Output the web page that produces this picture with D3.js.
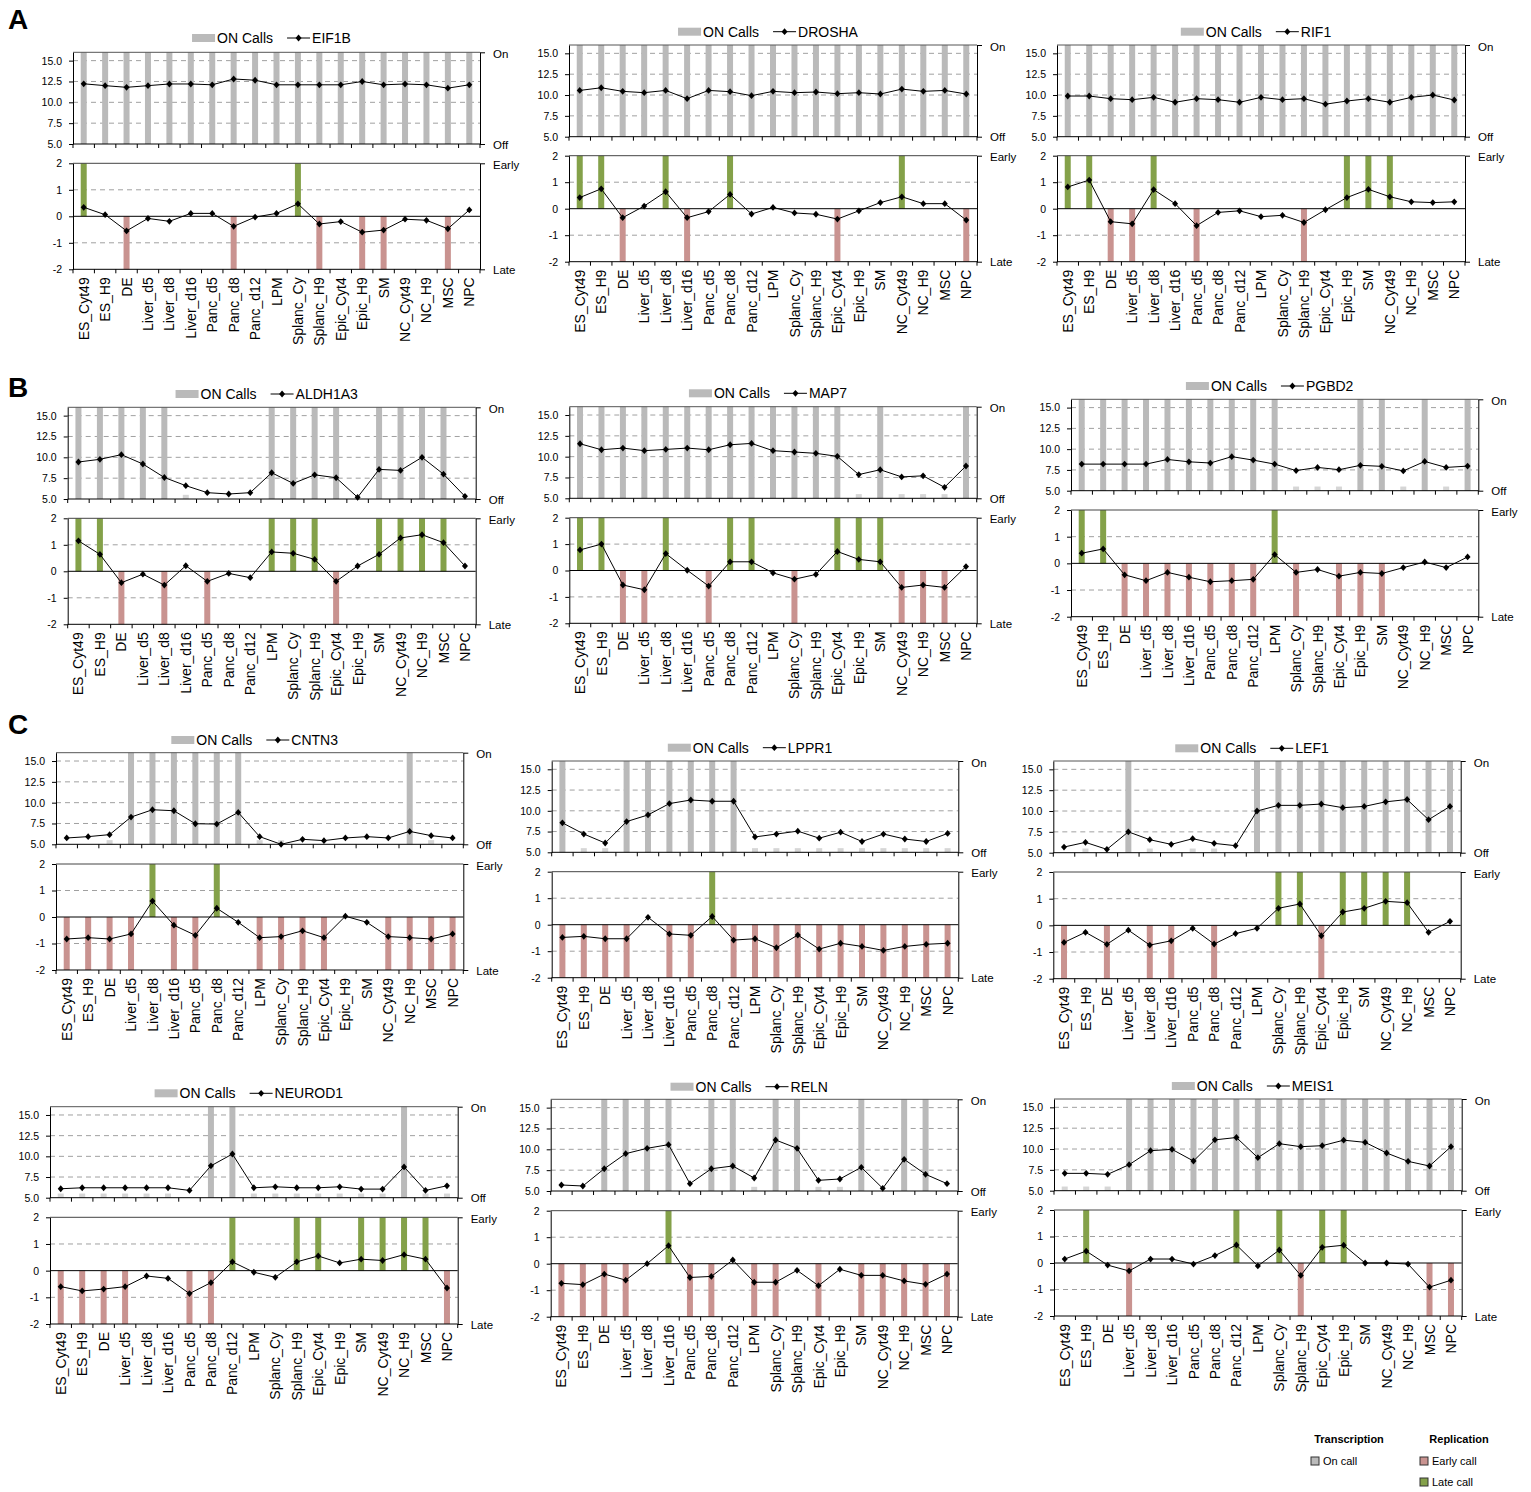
<!DOCTYPE html>
<html><head><meta charset="utf-8">
<script src="https://cdn.jsdelivr.net/npm/d3@7"></script>
<style>
body{margin:0;background:#fff}
text{font-family:"Liberation Sans",Arial,Helvetica,sans-serif;fill:#000}
</style>
</head><body>
<svg id="chart" width="1531" height="1492"></svg>
<script>
// ---------------- DATA ----------------
const categories = ["ES_Cyt49","ES_H9","DE","Liver_d5","Liver_d8","Liver_d16","Panc_d5","Panc_d8","Panc_d12","LPM","Splanc_Cy","Splanc_H9","Epic_Cyt4","Epic_H9","SM","NC_Cyt49","NC_H9","MSC","NPC"];
const exprTicks = [5, 7.5, 10, 12.5, 15];
const repTicks = [-2, -1, 0, 1, 2];
// on-call codes: 1 = ON call, 0.5 = faint off-call stub, 0 = none
// replication calls: 1 = early (up bar), -1 = late (down bar), 0 = none

const EIF1B_expr = [12.22,12.0,11.8,12.0,12.2,12.2,12.1,12.8,12.65,12.1,12.1,12.1,12.1,12.5,12.1,12.2,12.1,11.7,12.1];
const EIF1B_on   = [1,1,1,1,1,1,1,1,1,1,1,1,1,1,1,1,1,1,1];
const EIF1B_rep  = [0.34,0.06,-0.55,-0.08,-0.19,0.11,0.11,-0.38,-0.03,0.11,0.47,-0.29,-0.2,-0.6,-0.52,-0.11,-0.15,-0.47,0.24];
const EIF1B_call = [1,0,-1,0,0,0,0,-1,0,0,1,-1,0,-1,-1,0,0,-1,0];

const DROSHA_expr = [10.55,10.87,10.44,10.28,10.55,9.56,10.55,10.4,9.92,10.44,10.28,10.36,10.16,10.28,10.12,10.71,10.44,10.55,10.12];
const DROSHA_on   = [1,1,1,1,1,1,1,1,1,1,1,1,1,1,1,1,1,1,1];
const DROSHA_rep  = [0.42,0.75,-0.34,0.1,0.64,-0.34,-0.11,0.54,-0.2,0.05,-0.16,-0.21,-0.39,-0.08,0.23,0.45,0.19,0.19,-0.43];
const DROSHA_call = [1,1,-1,0,1,-1,0,1,0,0,0,0,-1,0,0,1,0,0,-1];

const RIF1_expr = [9.88,9.88,9.56,9.44,9.72,9.13,9.56,9.44,9.13,9.72,9.44,9.56,8.9,9.28,9.56,9.13,9.72,10.0,9.4];
const RIF1_on   = [1,1,1,1,1,1,1,1,1,1,1,1,1,1,1,1,1,1,1];
const RIF1_rep  = [0.82,1.08,-0.49,-0.57,0.72,0.19,-0.64,-0.14,-0.08,-0.3,-0.25,-0.52,-0.04,0.42,0.73,0.45,0.26,0.23,0.26];
const RIF1_call = [1,1,-1,-1,1,0,-1,0,0,0,0,-1,0,1,1,1,0,0,0];

const ALDH1A3_expr = [9.44,9.76,10.32,9.2,7.58,6.6,5.76,5.6,5.76,8.15,6.87,7.9,7.55,5.2,8.55,8.43,10.0,7.98,5.32];
const ALDH1A3_on   = [1,1,1,1,1,0.5,0,0,0,1,1,1,1,0,1,1,1,1,0];
const ALDH1A3_rep  = [1.15,0.64,-0.43,-0.11,-0.52,0.21,-0.38,-0.08,-0.24,0.73,0.68,0.45,-0.38,0.2,0.64,1.26,1.38,1.08,0.2];
const ALDH1A3_call = [1,1,-1,0,-1,0,-1,0,0,1,1,1,-1,0,1,1,1,1,0];

const MAP7_expr = [11.55,10.83,11.03,10.72,10.87,11.03,10.83,11.43,11.59,10.72,10.56,10.4,10.04,7.85,8.43,7.57,7.7,6.32,8.88];
const MAP7_on   = [1,1,1,1,1,1,1,1,1,1,1,1,1,0.5,1,0.5,0.5,0.5,1];
const MAP7_rep  = [0.78,1.0,-0.55,-0.73,0.64,0.01,-0.59,0.33,0.33,-0.09,-0.33,-0.15,0.72,0.42,0.33,-0.64,-0.55,-0.64,0.15];
const MAP7_call = [1,1,-1,-1,1,0,-1,1,1,0,-1,0,1,1,1,-1,-1,-1,0];

const PGBD2_expr = [8.2,8.2,8.2,8.2,8.76,8.48,8.33,9.1,8.68,8.2,7.42,7.8,7.53,8.05,7.93,7.38,8.52,7.8,7.96];
const PGBD2_on   = [1,1,1,1,1,1,1,1,1,1,0.5,0.5,0.5,1,1,0.5,1,0.5,1];
const PGBD2_rep  = [0.38,0.54,-0.43,-0.65,-0.34,-0.52,-0.69,-0.65,-0.6,0.33,-0.34,-0.23,-0.48,-0.34,-0.38,-0.16,0.05,-0.16,0.24];
const PGBD2_call = [1,1,-1,-1,-1,-1,-1,-1,-1,1,-1,0,-1,-1,-1,0,0,0,0];

const CNTN3_expr = [5.76,5.92,6.16,8.27,9.15,9.03,7.47,7.43,8.83,5.92,5.0,5.6,5.44,5.76,5.92,5.76,6.55,6.04,5.76];
const CNTN3_on   = [0,0,0.5,1,1,1,1,1,1,0.5,0.5,0,0,0,0,0,1,0.5,0];
const CNTN3_rep  = [-0.83,-0.78,-0.83,-0.64,0.6,-0.31,-0.69,0.33,-0.2,-0.78,-0.74,-0.52,-0.78,0.03,-0.2,-0.74,-0.78,-0.83,-0.64];
const CNTN3_call = [-1,-1,-1,-1,1,-1,-1,1,0,-1,-1,-1,-1,0,0,-1,-1,-1,-1];

const LPPR1_expr = [8.55,7.2,6.12,8.7,9.5,10.87,11.3,11.15,11.15,6.85,7.2,7.55,6.7,7.42,6.3,7.2,6.6,6.3,7.27];
const LPPR1_on   = [1,0.5,0.5,1,1,1,1,1,1,0.5,0.5,0.5,0.5,0.5,0.5,0.5,0.5,0.5,0.5];
const LPPR1_rep  = [-0.48,-0.44,-0.53,-0.53,0.28,-0.35,-0.4,0.31,-0.58,-0.53,-0.87,-0.39,-0.92,-0.7,-0.82,-0.97,-0.82,-0.74,-0.7];
const LPPR1_call = [-1,-1,-1,-1,0,-1,-1,1,-1,-1,-1,-1,-1,-1,-1,-1,-1,-1,-1];

const LEF1_expr = [5.68,6.24,5.4,7.5,6.56,6.0,6.68,6.12,5.84,10.0,10.68,10.68,10.84,10.4,10.55,11.1,11.38,8.96,10.55];
const LEF1_on   = [0,0.5,0,1,0.5,0,0.5,0.5,0,1,1,1,1,1,1,1,1,1,1];
const LEF1_rep  = [-0.64,-0.26,-0.71,-0.18,-0.74,-0.58,-0.11,-0.7,-0.31,-0.11,0.64,0.8,-0.39,0.5,0.64,0.9,0.85,-0.26,0.15];
const LEF1_call = [-1,0,-1,0,-1,-1,0,-1,0,0,1,1,-1,1,1,1,1,0,0];

const NEUROD1_expr = [6.08,6.2,6.2,6.2,6.2,6.2,5.88,8.85,10.28,6.2,6.32,6.2,6.2,6.32,6.04,6.04,8.72,5.88,6.44];
const NEUROD1_on   = [0.5,0.5,0.5,0.5,0.5,0.5,0,1,1,0.5,0.5,0.5,0.5,0.5,0.5,0.5,1,0.5,0.5];
const NEUROD1_rep  = [-0.6,-0.76,-0.69,-0.6,-0.2,-0.29,-0.86,-0.45,0.33,-0.06,-0.25,0.33,0.55,0.29,0.43,0.38,0.6,0.43,-0.65];
const NEUROD1_call = [-1,-1,-1,-1,0,0,-1,-1,1,0,0,1,1,0,1,1,1,1,-1];

const RELN_expr = [5.72,5.6,7.67,9.48,10.12,10.56,5.88,7.67,8.0,6.56,11.12,10.12,6.28,6.44,7.84,5.32,8.8,7.0,5.88];
const RELN_on   = [0,0,1,1,1,1,0,1,1,0.5,1,1,0.5,0.5,1,0,1,1,0];
const RELN_rep  = [-0.74,-0.79,-0.39,-0.62,0.0,0.68,-0.52,-0.48,0.14,-0.7,-0.7,-0.25,-0.83,-0.21,-0.44,-0.44,-0.65,-0.78,-0.39];
const RELN_call = [-1,-1,-1,-1,0,1,-1,-1,0,-1,-1,0,-1,0,-1,-1,-1,-1,-1];

const MEIS1_expr = [7.08,7.08,6.96,8.12,9.8,9.96,8.56,11.1,11.38,8.96,10.64,10.28,10.4,11.06,10.8,9.52,8.52,7.96,10.28];
const MEIS1_on   = [0.5,0.5,0.5,1,1,1,1,1,1,1,1,1,1,1,1,1,1,1,1];
const MEIS1_rep  = [0.15,0.45,-0.08,-0.3,0.15,0.15,-0.04,0.28,0.68,-0.11,0.49,-0.47,0.59,0.67,0.0,0.0,-0.04,-0.91,-0.65];
const MEIS1_call = [0,1,0,-1,0,0,0,0,1,0,1,-1,1,1,0,0,0,-1,-1];

const panels = [
  {gene:"EIF1B",   expr:EIF1B_expr,   on:EIF1B_on,   rep:EIF1B_rep,   call:EIF1B_call},
  {gene:"DROSHA",  expr:DROSHA_expr,  on:DROSHA_on,  rep:DROSHA_rep,  call:DROSHA_call},
  {gene:"RIF1",    expr:RIF1_expr,    on:RIF1_on,    rep:RIF1_rep,    call:RIF1_call},
  {gene:"ALDH1A3", expr:ALDH1A3_expr, on:ALDH1A3_on, rep:ALDH1A3_rep, call:ALDH1A3_call},
  {gene:"MAP7",    expr:MAP7_expr,    on:MAP7_on,    rep:MAP7_rep,    call:MAP7_call},
  {gene:"PGBD2",   expr:PGBD2_expr,   on:PGBD2_on,   rep:PGBD2_rep,   call:PGBD2_call},
  {gene:"CNTN3",   expr:CNTN3_expr,   on:CNTN3_on,   rep:CNTN3_rep,   call:CNTN3_call},
  {gene:"LPPR1",   expr:LPPR1_expr,   on:LPPR1_on,   rep:LPPR1_rep,   call:LPPR1_call},
  {gene:"LEF1",    expr:LEF1_expr,    on:LEF1_on,    rep:LEF1_rep,    call:LEF1_call},
  {gene:"NEUROD1", expr:NEUROD1_expr, on:NEUROD1_on, rep:NEUROD1_rep, call:NEUROD1_call},
  {gene:"RELN",    expr:RELN_expr,    on:RELN_on,    rep:RELN_rep,    call:RELN_call},
  {gene:"MEIS1",   expr:MEIS1_expr,   on:MEIS1_on,   rep:MEIS1_rep,   call:MEIS1_call}
];

// ---------------- LAYOUT ----------------
const layout = [
  {x0:73,    x1:480,    t0:52.3,   t1:144,    b0:163.3,  b1:269.3,  ly:38},
  {x0:569,   x1:977,    t0:45,     t1:136.7,  b0:155.7,  b1:261.7,  ly:31.7},
  {x0:1057,  x1:1465,   t0:45,     t1:136.7,  b0:155.7,  b1:261.7,  ly:31.7},
  {x0:67.7,  x1:475.7,  t0:407.3,  t1:499,    b0:518.3,  b1:624.3,  ly:394},
  {x0:569.3, x1:976.7,  t0:406.7,  t1:498.3,  b0:517.7,  b1:623.3,  ly:393.3},
  {x0:1071,  x1:1478.3, t0:399.3,  t1:490.7,  b0:510,    b1:616.7,  ly:386},
  {x0:56,    x1:463.3,  t0:752.7,  t1:844.3,  b0:864,    b1:970,    ly:740},
  {x0:551.7, x1:958.3,  t0:761,    t1:852.3,  b0:871.7,  b1:977.7,  ly:747.7},
  {x0:1053.3,x1:1460.7, t0:761,    t1:852.7,  b0:872,    b1:978.7,  ly:748.3},
  {x0:50,    x1:457.7,  t0:1106.7, t1:1197.7, b0:1217.3, b1:1324,   ly:1093.3},
  {x0:550.7, x1:957.7,  t0:1099.3, t1:1191,   b0:1210.7, b1:1316.7, ly:1086.7},
  {x0:1054,  x1:1461.7, t0:1099,   t1:1190.7, b0:1210,   b1:1316,   ly:1086}
];

const COL_ON = "#bababa", COL_STUB = "#d6d6d6", COL_EARLY = "#84a14a", COL_LATE = "#c99390";
const BAR_W = 6;
const diamond = "M0,-3.4L3,0L0,3.4L-3,0Z";

const svg = d3.select("#chart");
const defs = svg.append("defs");
defs.append("filter").attr("id","soft").attr("x","-50%").attr("width","200%")
  .append("feGaussianBlur").attr("stdDeviation","0.6 0.3");

function drawPanel(p, L) {
  const g = svg.append("g");
  const x = d3.scaleBand().domain(categories).range([L.x0, L.x1]);
  const cx = c => x(c) + x.bandwidth() / 2;
  const yT = d3.scaleLinear().domain([5, 16]).range([L.t1, L.t0]);
  const yB = d3.scaleLinear().domain([-2, 2]).range([L.b1, L.b0]);

  // ---------- top (expression) ----------
  g.append("g").selectAll("line").data(exprTicks.slice(1)).join("line")
    .attr("x1", L.x0).attr("x2", L.x1).attr("y1", d => yT(d)).attr("y2", d => yT(d))
    .attr("stroke", "#a0a0a0").attr("stroke-width", 1).attr("stroke-dasharray", "5,4");

  const onData = categories.map((c, i) => ({c, v: p.on[i]})).filter(d => d.v > 0);
  g.append("g").attr("filter","url(#soft)").selectAll("rect").data(onData).join("rect")
    .attr("x", d => cx(d.c) - BAR_W / 2).attr("width", BAR_W)
    .attr("y", d => d.v === 1 ? yT(16) : yT(5.5))
    .attr("height", d => yT(5) - (d.v === 1 ? yT(16) : yT(5.5)))
    .attr("fill", d => d.v === 1 ? COL_ON : COL_STUB);

  // frame top line
  g.append("line").attr("x1", L.x0).attr("x2", L.x1).attr("y1", yT(16)).attr("y2", yT(16))
    .attr("stroke", "#555").attr("stroke-width", 1);

  const axL = d3.axisLeft(yT).tickValues(exprTicks).tickFormat(d3.format(".1f"))
    .tickSize(4).tickSizeOuter(0).tickPadding(7);
  const gA = g.append("g").attr("transform", `translate(${L.x0},0)`).call(axL);
  gA.selectAll("text").style("font-size", "10.5px");
  // right axis
  const gR = g.append("g").attr("transform", `translate(${L.x1},0)`)
    .call(d3.axisRight(yT).tickValues([5, 16]).tickFormat("").tickSize(5).tickSizeOuter(0));
  g.append("text").attr("x", L.x1 + 13).attr("y", L.t0 + 1.5).attr("dy", "0.35em")
    .style("font-size", "11.5px").text("On");
  g.append("text").attr("x", L.x1 + 13).attr("y", L.t1 + 0.5).attr("dy", "0.35em")
    .style("font-size", "11.5px").text("Off");
  // x axis line + boundary ticks
  g.append("line").attr("x1", L.x0).attr("x2", L.x1).attr("y1", L.t1).attr("y2", L.t1)
    .attr("stroke", "#000");
  const bounds = d3.range(categories.length + 1).map(i => L.x0 + i * x.step());
  g.append("g").selectAll("line").data(bounds).join("line")
    .attr("x1", d => d).attr("x2", d => d).attr("y1", L.t1).attr("y2", L.t1 + 4)
    .attr("stroke", "#000");

  // expression line
  const pts = categories.map((c, i) => [cx(c), yT(p.expr[i])]);
  g.append("path").attr("d", d3.line()(pts)).attr("fill", "none").attr("stroke", "#000").attr("stroke-width", 1);
  g.append("g").selectAll("path").data(pts).join("path")
    .attr("d", diamond).attr("transform", d => `translate(${d[0]},${d[1]})`).attr("fill", "#000");

  // ---------- bottom (replication) ----------
  g.append("g").selectAll("line").data([-1, 1]).join("line")
    .attr("x1", L.x0).attr("x2", L.x1).attr("y1", d => yB(d)).attr("y2", d => yB(d))
    .attr("stroke", "#a0a0a0").attr("stroke-width", 1).attr("stroke-dasharray", "5,4");

  const callData = categories.map((c, i) => ({c, v: p.call[i]})).filter(d => d.v !== 0);
  g.append("g").attr("filter","url(#soft)").selectAll("rect").data(callData).join("rect")
    .attr("x", d => cx(d.c) - BAR_W / 2).attr("width", BAR_W)
    .attr("y", d => d.v > 0 ? yB(2) : yB(0))
    .attr("height", d => d.v > 0 ? yB(0) - yB(2) : yB(-2) - yB(0))
    .attr("fill", d => d.v > 0 ? COL_EARLY : COL_LATE);

  g.append("line").attr("x1", L.x0).attr("x2", L.x1).attr("y1", yB(0)).attr("y2", yB(0))
    .attr("stroke", "#000").attr("stroke-width", 1);
  g.append("line").attr("x1", L.x0).attr("x2", L.x1).attr("y1", yB(2)).attr("y2", yB(2))
    .attr("stroke", "#444").attr("stroke-width", 1);

  const axLB = d3.axisLeft(yB).tickValues(repTicks).tickFormat(d => String(d))
    .tickSize(4).tickSizeOuter(0).tickPadding(7);
  const gB = g.append("g").attr("transform", `translate(${L.x0},0)`).call(axLB);
  gB.selectAll("text").style("font-size", "10.5px");
  g.append("g").attr("transform", `translate(${L.x1},0)`)
    .call(d3.axisRight(yB).tickValues([-2, 2]).tickFormat("").tickSize(5).tickSizeOuter(0));
  g.append("text").attr("x", L.x1 + 13).attr("y", L.b0 + 1.5).attr("dy", "0.35em")
    .style("font-size", "11.5px").text("Early");
  g.append("text").attr("x", L.x1 + 13).attr("y", L.b1 + 0.5).attr("dy", "0.35em")
    .style("font-size", "11.5px").text("Late");
  g.append("line").attr("x1", L.x0).attr("x2", L.x1).attr("y1", L.b1).attr("y2", L.b1)
    .attr("stroke", "#000");
  g.append("g").selectAll("line").data(bounds).join("line")
    .attr("x1", d => d).attr("x2", d => d).attr("y1", L.b1).attr("y2", L.b1 + 4)
    .attr("stroke", "#000");

  const rpts = categories.map((c, i) => [cx(c), yB(p.rep[i])]);
  g.append("path").attr("d", d3.line()(rpts)).attr("fill", "none").attr("stroke", "#000").attr("stroke-width", 1);
  g.append("g").selectAll("path").data(rpts).join("path")
    .attr("d", diamond).attr("transform", d => `translate(${d[0]},${d[1]})`).attr("fill", "#000");

  // category labels
  g.append("g").selectAll("text").data(categories).join("text")
    .attr("transform", c => `translate(${cx(c)},${L.b1 + 8}) rotate(-90)`)
    .attr("text-anchor", "end").attr("dy", "0.36em")
    .style("font-size", "14px").text(c => c);

  // panel legend
  const lg = g.append("g");
  lg.append("rect").attr("x", 0).attr("y", -4).attr("width", 23).attr("height", 8).attr("fill", COL_ON);
  const t1 = lg.append("text").attr("x", 25).attr("y", 5).style("font-size", "14px").text("ON Calls");
  const w1 = t1.node().getComputedTextLength();
  const lx = 25 + w1 + 14;
  lg.append("line").attr("x1", lx).attr("x2", lx + 23).attr("y1", 0).attr("y2", 0).attr("stroke", "#000");
  lg.append("path").attr("d", diamond).attr("transform", `translate(${lx + 11.5},0)`).attr("fill", "#000");
  const t2 = lg.append("text").attr("x", lx + 25).attr("y", 5).style("font-size", "14px").text(p.gene);
  const total = lx + 25 + t2.node().getComputedTextLength();
  lg.attr("transform", `translate(${(L.x0 + L.x1) / 2 - 5 - total / 2},${L.ly})`);
}

panels.forEach((p, i) => drawPanel(p, layout[i]));

// section letters
[["A", 8, 29], ["B", 8, 397], ["C", 8, 734]].forEach(([t, x, y]) => {
  svg.append("text").attr("x", x).attr("y", y).style("font-size", "28px").style("font-weight", "bold").text(t);
});

// bottom-right key
const key = svg.append("g");
key.append("text").attr("x", 1349).attr("y", 1443).attr("text-anchor", "middle")
  .style("font-size", "11px").style("font-weight", "bold").text("Transcription");
key.append("text").attr("x", 1459).attr("y", 1443).attr("text-anchor", "middle")
  .style("font-size", "11px").style("font-weight", "bold").text("Replication");
const keyItems = [
  {x: 1311, y: 1457, c: COL_ON, t: "On call"},
  {x: 1420, y: 1457, c: COL_LATE, t: "Early call"},
  {x: 1420, y: 1478, c: COL_EARLY, t: "Late call"}
];
keyItems.forEach(k => {
  key.append("rect").attr("x", k.x).attr("y", k.y).attr("width", 8).attr("height", 8)
    .attr("fill", k.c).attr("stroke", "#333").attr("stroke-width", 1);
  key.append("text").attr("x", k.x + 12).attr("y", k.y + 8).style("font-size", "11px").text(k.t);
});
</script>
</body></html>
